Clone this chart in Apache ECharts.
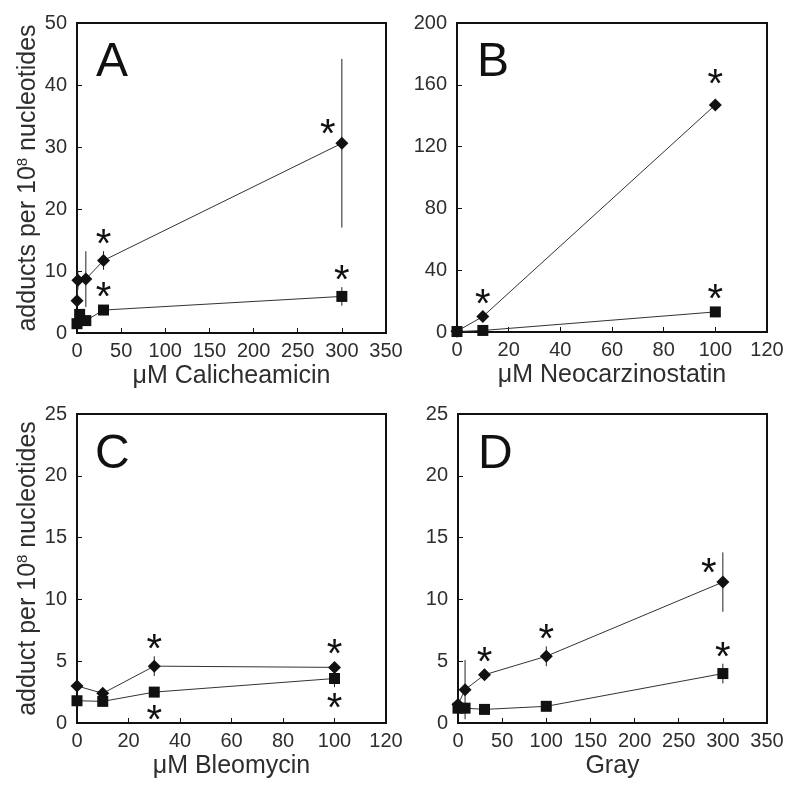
<!DOCTYPE html>
<html>
<head>
<meta charset="utf-8">
<script src="https://cdn.jsdelivr.net/npm/echarts@6/dist/echarts.min.js"></script>
<style>html,body{margin:0;padding:0;background:#fff;}#c{width:800px;height:794px;}</style>
</head>
<body>
<div id="c"></div>
<script>
// ---- Panel A: Calicheamicin ----
const A_dose_dia = [0, 1, 10, 30, 300];
const A_val_dia  = [5.2, 8.5, 8.7, 11.7, 30.6];
const A_err_dia  = [0.8, 1.5, 4.5, 1.5, 13.6];
const A_sig_dia  = [0, 0, 0, 1, 2];
const A_dose_sq  = [0, 3, 10, 30, 300];
const A_val_sq   = [1.5, 3.0, 2.0, 3.7, 5.9];
const A_err_sq   = [0.5, 0.5, 0.3, 0.4, 1.5];
const A_sig_sq   = [0, 0, 0, 1, 1];
// ---- Panel B: Neocarzinostatin ----
const B_dose_dia = [0, 10, 100];
const B_val_dia  = [0.5, 10, 147];
const B_err_dia  = [0.3, 2, 1];
const B_sig_dia  = [0, 1, 3];
const B_dose_sq  = [0, 10, 100];
const B_val_sq   = [0.3, 1, 13];
const B_err_sq   = [0.2, 0.5, 1];
const B_sig_sq   = [0, 0, 1];
// ---- Panel C: Bleomycin ----
const C_dose_dia = [0, 10, 30, 100];
const C_val_dia  = [3.0, 2.4, 4.6, 4.5];
const C_err_dia  = [0.2, 0.3, 0.8, 0.3];
const C_sig_dia  = [0, 0, 1, 1];
const C_dose_sq  = [0, 10, 30, 100];
const C_val_sq   = [1.8, 1.75, 2.5, 3.6];
const C_err_sq   = [0.3, 0.3, 0.2, 0.7];
const C_sig_sq   = [0, 0, -1, -1];
// ---- Panel D: Gray ----
const D_dose_dia = [0, 8, 30, 100, 300];
const D_val_dia  = [1.5, 2.7, 3.9, 5.4, 11.4];
const D_err_dia  = [0.3, 2.4, 0.2, 0.8, 2.4];
const D_sig_dia  = [0, 0, 1, 1, 2];
const D_dose_sq  = [0, 8, 30, 100, 300];
const D_val_sq   = [1.2, 1.2, 1.1, 1.35, 4.0];
const D_err_sq   = [0.3, 0.2, 0.1, 0.1, 0.8];
const D_sig_sq   = [0, 0, 0, 0, 1];

// axes
const A_x = {min: 0, max: 350, interval: 50, name: 'μM Calicheamicin'};
const A_y = {min: 0, max: 50, interval: 10, name: 'adducts per 10{sup|8} nucleotides'};
const B_x = {min: 0, max: 120, interval: 20, name: 'μM Neocarzinostatin'};
const B_y = {min: 0, max: 200, interval: 40, name: ''};
const C_x = {min: 0, max: 120, interval: 20, name: 'μM Bleomycin'};
const C_y = {min: 0, max: 25, interval: 5, name: 'adduct per 10{sup|8} nucleotides'};
const D_x = {min: 0, max: 350, interval: 50, name: 'Gray'};
const D_y = {min: 0, max: 25, interval: 5, name: ''};
const panelLetters = ['A', 'B', 'C', 'D'];

const FONT = 'Liberation Sans, Arial, sans-serif';
const INK = '#111';
const LABEL = '#2e2e2e';

const panels = [
  {x: A_x, y: A_y, s: [[A_dose_dia, A_val_dia, A_err_dia, A_sig_dia, 'diamond'], [A_dose_sq, A_val_sq, A_err_sq, A_sig_sq, 'rect']]},
  {x: B_x, y: B_y, s: [[B_dose_dia, B_val_dia, B_err_dia, B_sig_dia, 'diamond'], [B_dose_sq, B_val_sq, B_err_sq, B_sig_sq, 'rect']]},
  {x: C_x, y: C_y, s: [[C_dose_dia, C_val_dia, C_err_dia, C_sig_dia, 'diamond'], [C_dose_sq, C_val_sq, C_err_sq, C_sig_sq, 'rect']]},
  {x: D_x, y: D_y, s: [[D_dose_dia, D_val_dia, D_err_dia, D_sig_dia, 'diamond'], [D_dose_sq, D_val_sq, D_err_sq, D_sig_sq, 'rect']]}
];

const grids = [
  {left: 77, top: 23, width: 309, height: 310},
  {left: 457, top: 23, width: 310, height: 309},
  {left: 77, top: 414, width: 309, height: 309},
  {left: 458, top: 414, width: 309, height: 309}
];
const letterPos = [[96, 39], [477, 39], [95, 431], [478, 431]];

const option = {
  animation: false,
  backgroundColor: '#fff',
  grid: grids.map(g => Object.assign({show: true, borderColor: INK, borderWidth: 2, backgroundColor: 'transparent', containLabel: false}, g)),
  xAxis: [], yAxis: [], series: [],
  graphic: panelLetters.map((t, i) => ({
    type: 'text', left: letterPos[i][0], top: letterPos[i][1],
    style: {text: t, font: '48px ' + FONT, fill: INK}
  }))
};

panels.forEach((p, i) => {
  option.xAxis.push({
    type: 'value', gridIndex: i, min: p.x.min, max: p.x.max, interval: p.x.interval,
    name: p.x.name, nameLocation: 'middle', nameGap: 31,
    nameTextStyle: {fontFamily: FONT, fontSize: 25, color: LABEL},
    axisLine: {show: true, onZero: false, lineStyle: {color: INK, width: 2}},
    axisTick: {show: true, inside: true, length: 5, lineStyle: {color: INK}},
    axisLabel: {fontFamily: FONT, fontSize: 20, color: LABEL, margin: 8, showMaxLabel: true, showMinLabel: true},
    splitLine: {show: false}
  });
  option.yAxis.push({
    type: 'value', gridIndex: i, min: p.y.min, max: p.y.max, interval: p.y.interval,
    name: p.y.name, nameLocation: 'middle', nameGap: 34,
    nameTextStyle: {fontFamily: FONT, fontSize: 25, color: LABEL,
      rich: {sup: {fontFamily: FONT, fontSize: 15, color: LABEL, verticalAlign: 'top', padding: [0, 0, 10, 0]}}},
    axisLine: {show: true, onZero: false, lineStyle: {color: INK, width: 2}},
    axisTick: {show: true, inside: true, length: 5, lineStyle: {color: INK}},
    axisLabel: {fontFamily: FONT, fontSize: 20, color: LABEL, margin: 10},
    splitLine: {show: false}
  });
  p.s.forEach(([xs, ys, es, sig, sym]) => {
    // error bars
    option.series.push({
      type: 'custom', xAxisIndex: i, yAxisIndex: i, z: 1,
      data: xs.map((x, k) => [x, ys[k], es[k]]),
      encode: {x: 0, y: 1},
      renderItem: (params, api) => {
        const x = api.value(0), y = api.value(1), e = api.value(2);
        const a = api.coord([x, y - e]), b = api.coord([x, y + e]);
        return {type: 'line', shape: {x1: a[0], y1: a[1], x2: b[0], y2: b[1]},
          style: {stroke: '#222', lineWidth: 1}};
      }
    });
    // line + markers
    option.series.push({
      type: 'line', xAxisIndex: i, yAxisIndex: i, z: 3,
      data: xs.map((x, k) => [x, ys[k]]),
      symbol: sym, symbolSize: sym === 'rect' ? 11 : 13, showAllSymbol: true,
      lineStyle: {color: '#333', width: 1},
      itemStyle: {color: INK, borderWidth: 0},
      clip: false
    });
    // significance asterisks
    const starData = [];
    xs.forEach((x, k) => { if (sig[k]) starData.push([x, ys[k], es[k], sig[k]]); });
    option.series.push({
      type: 'custom', xAxisIndex: i, yAxisIndex: i, z: 4,
      data: starData, encode: {x: 0, y: 1},
      renderItem: (params, api) => {
        const x = api.value(0), y = api.value(1), e = api.value(2), s = api.value(3);
        const pt = api.coord([x, y]);
        const top = api.coord([x, y + e])[1], bot = api.coord([x, y - e])[1];
        let cx = pt[0], cy;
        if (s === 1) cy = Math.min(top - 14, pt[1] - 20);
        else if (s === 3) cy = pt[1] - 28;
        else if (s === -1) cy = Math.max(bot + 14, pt[1] + 21);
        else { cx = pt[0] - 14; cy = pt[1] - 16; }
        return {type: 'text', style: {text: '*', x: cx, y: cy + 9, font: '40px ' + FONT,
          textAlign: 'center', textVerticalAlign: 'middle', fill: INK}};
      }
    });
  });
});

const chart = echarts.init(document.getElementById('c'), null, {renderer: 'canvas'});
chart.setOption(option);
</script>
</body>
</html>
